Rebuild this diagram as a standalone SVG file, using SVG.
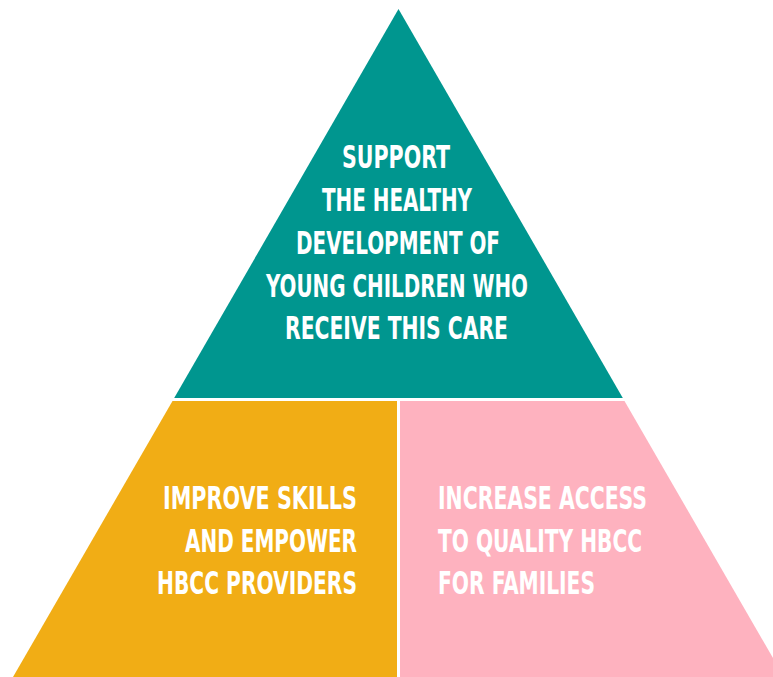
<svg xmlns="http://www.w3.org/2000/svg" width="773" height="677" viewBox="0 0 773 677">
<style>
.t{font-family:"Liberation Sans Narrow","DejaVu Sans Condensed","Liberation Sans",sans-serif;font-weight:bold;font-size:32px;fill:#ffffff}
</style>
<rect width="773" height="677" fill="#ffffff"/>
<g id="top">
<polygon points="398.5,9 622.8,398 174.2,398" fill="#00968F"/>
<text class="t" text-anchor="middle" x="396" y="168" textLength="108" lengthAdjust="spacingAndGlyphs">SUPPORT</text>
<text class="t" text-anchor="middle" x="397" y="211" textLength="150" lengthAdjust="spacingAndGlyphs">THE HEALTHY</text>
<text class="t" text-anchor="middle" x="398" y="254" textLength="204" lengthAdjust="spacingAndGlyphs">DEVELOPMENT OF</text>
<text class="t" text-anchor="middle" x="397" y="297" textLength="262" lengthAdjust="spacingAndGlyphs">YOUNG CHILDREN WHO</text>
<text class="t" text-anchor="middle" x="396.5" y="339" textLength="223" lengthAdjust="spacingAndGlyphs">RECEIVE THIS CARE</text>
</g>
<g id="left">
<polygon points="172.5,401 397,401 397,677 13,677" fill="#F1AD15"/>
<text class="t" text-anchor="end" x="357" y="509" textLength="194" lengthAdjust="spacingAndGlyphs">IMPROVE SKILLS</text>
<text class="t" text-anchor="end" x="357" y="552" textLength="172" lengthAdjust="spacingAndGlyphs">AND EMPOWER</text>
<text class="t" text-anchor="end" x="357" y="594" textLength="200" lengthAdjust="spacingAndGlyphs">HBCC PROVIDERS</text>
</g>
<g id="right">
<polygon points="400,401 624.5,401 784,677 400,677" fill="#FEB2BF"/>
<text class="t" x="438" y="509" textLength="209" lengthAdjust="spacingAndGlyphs">INCREASE ACCESS</text>
<text class="t" x="438" y="552" textLength="204" lengthAdjust="spacingAndGlyphs">TO QUALITY HBCC</text>
<text class="t" x="438" y="594" textLength="157" lengthAdjust="spacingAndGlyphs">FOR FAMILIES</text>
</g>
<g id="connectors"/>
</svg>
